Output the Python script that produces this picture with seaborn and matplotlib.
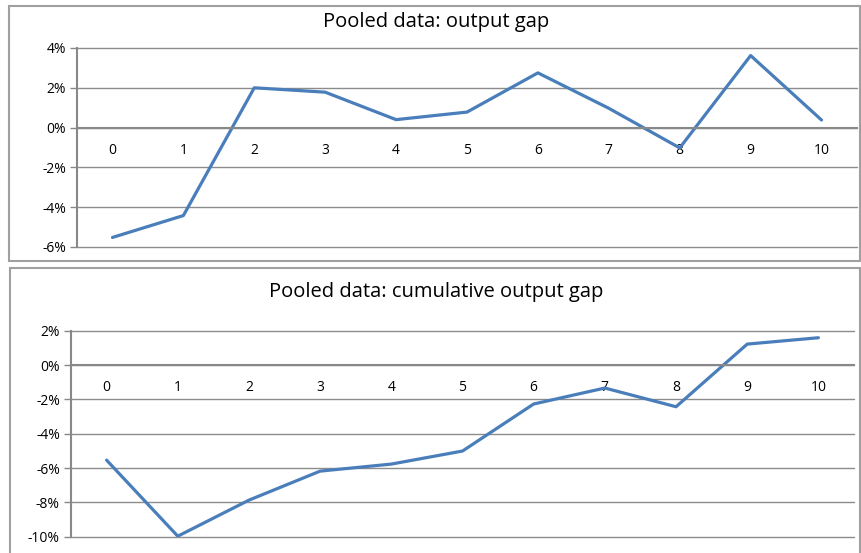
import numpy as np
import pandas as pd
import seaborn as sns
import matplotlib.pyplot as plt
from matplotlib.patches import Rectangle
from matplotlib.ticker import FuncFormatter, FixedLocator

# values (in %)
periods = list(range(11))
output_gap = [-5.52, -4.42, 2.0, 1.78, 0.4, 0.78, 2.75, 0.97, -1.02, 3.62, 0.38]
cumulative_gap = [-5.54, -9.97, -7.87, -6.18, -5.77, -5.01, -2.27, -1.34, -2.43, 1.22, 1.59]

top_ticks = [4, 2, 0, -2, -4, -6]
bottom_ticks = [2, 0, -2, -4, -6, -8, -10]

df = pd.DataFrame({'period': periods, 'gap': output_gap, 'cum': cumulative_gap})

sns.set_style('white')
plt.rcParams['font.family'] = ['Open Sans', 'DejaVu Sans']
plt.rcParams['text.color'] = 'black'
plt.rcParams['xtick.labelcolor'] = 'black'
plt.rcParams['ytick.labelcolor'] = 'black'

W, H = 861, 553
fig = plt.figure(figsize=(W / 100, H / 100), dpi=100)

# chart frames
for (x0, y0, x1, y1) in [(9, 6, 860, 261), (10, 268, 860, 560)]:
    fig.patches.append(Rectangle((x0 / W, 1 - y1 / H), (x1 - x0) / W, (y1 - y0) / H,
                                 transform=fig.transFigure, fill=False,
                                 edgecolor='#a0a0a0', linewidth=1.5, zorder=0))

line_color = '#4a7ebb'
grid_color = '#8c8c8c'


def style_axis(ax, yticks):
    ax.set_xlim(-0.5, 10.5)
    ax.set_ylim(min(yticks), max(yticks))
    ax.set_yticks(yticks)
    ax.yaxis.set_major_formatter(FuncFormatter(lambda v, p: f'{v:.0f}%'))
    ax.grid(axis='y', color=grid_color, linewidth=1)
    for gl in ax.get_ygridlines():
        gl.set_clip_on(False)
    ax.set_axisbelow(True)
    for s in ['top', 'right']:
        ax.spines[s].set_visible(False)
    ax.spines['left'].set_color('#888888')
    ax.spines['left'].set_linewidth(1.5)
    ax.spines['bottom'].set_position(('data', 0))
    ax.spines['bottom'].set_color('#888888')
    ax.spines['bottom'].set_linewidth(1.5)
    ax.xaxis.set_major_locator(FixedLocator(np.arange(-0.5, 11, 1)))
    ax.xaxis.set_minor_locator(FixedLocator(periods))
    ax.set_xticklabels([], minor=False)
    ax.set_xticklabels([str(p) for p in periods], minor=True)
    ax.tick_params(axis='x', which='major', direction='out', length=5,
                   color='#888888', width=1)
    ax.tick_params(axis='x', which='minor', length=0, pad=11, labelsize=10)
    ax.tick_params(axis='y', direction='out', length=5, color='#888888',
                   width=1, left=True, labelsize=10, pad=3)
    ax.set_xlabel('')
    ax.set_ylabel('')


ax1 = fig.add_axes([77 / W, 1 - 247 / H, 780 / W, 199 / H])
sns.lineplot(data=df, x='period', y='gap', ax=ax1, color=line_color, linewidth=2.3)
style_axis(ax1, top_ticks)

ax2 = fig.add_axes([71 / W, 1 - 536.7 / H, 783 / W, 206 / H])
sns.lineplot(data=df, x='period', y='cum', ax=ax2, color=line_color, linewidth=2.3)
style_axis(ax2, bottom_ticks)

fig.text(436 / W, 1 - 22 / H, 'Pooled data: output gap', ha='center', va='center', fontsize=14.5)
fig.text(436 / W, 1 - 292 / H, 'Pooled data: cumulative output gap', ha='center', va='center', fontsize=14.5)

fig.savefig('out.png', dpi=100)
